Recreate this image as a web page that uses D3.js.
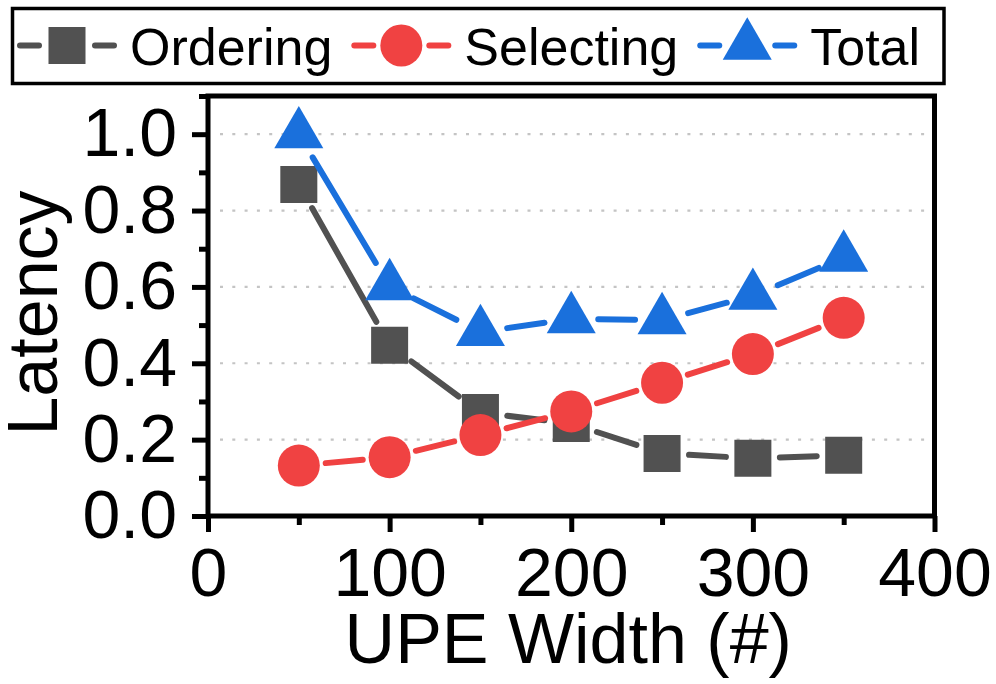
<!DOCTYPE html>
<html lang="en">
<head>
    <meta charset="UTF-8">
    <title>UPE Width Latency</title>
    <script src="https://d3js.org/d3.v7.min.js"></script>
    <style>
        body { margin: 0; background: #fff; }
        text { font-family: "Liberation Sans", Arial, Helvetica, sans-serif; fill: #000; }
    </style>
</head>
<body>
    <svg id="chart" width="996" height="684"></svg>
    <script>
        // data
        const widths = [50, 100, 150, 200, 250, 300, 350];
        const ordering = [0.868, 0.447, 0.271, 0.242, 0.164, 0.151, 0.159];
        const selecting = [0.132, 0.154, 0.212, 0.274, 0.349, 0.424, 0.519];
        const total = [1.0, 0.602, 0.482, 0.516, 0.513, 0.577, 0.677];
        const xTicks = [0, 100, 200, 300, 400];
        const xMinor = [50, 150, 250, 350];
        const yTicks = [0, 0.2, 0.4, 0.6, 0.8, 1.0];
        const yMinor = [0.1, 0.3, 0.5, 0.7, 0.9, 1.1];
        const yGrid = [0.2, 0.4, 0.6, 0.8, 1.0];
        const seriesNames = ['Ordering', 'Selecting', 'Total'];

        const width = 996, height = 684;
        const margin = { top: 96, right: 61.5, bottom: 168, left: 208 };
        const frameW = 5;
        const lineW = 6;

        const svg = d3.select('#chart');

        const x = d3.scaleLinear().domain([0, 400]).range([margin.left, width - margin.right]);
        const y = d3.scaleLinear().domain([0, 1.1]).range([height - margin.bottom, margin.top]);

        const series = [
            { name: seriesNames[0], values: ordering, color: '#515151', symbol: d3.symbolSquare, size: 37 * 37 },
            { name: seriesNames[1], values: selecting, color: '#f04242', symbol: d3.symbolCircle, size: Math.PI * 21 * 21 },
            { name: seriesNames[2], values: total, color: '#1a70dc', symbol: d3.symbolTriangle, size: 1040 }
        ];

        // dotted grid lines
        svg.append('g')
            .selectAll('line')
            .data(yGrid)
            .join('line')
            .attr('x1', x(0) + 12)
            .attr('x2', x(400) - 2)
            .attr('y1', d => y(d))
            .attr('y2', d => y(d))
            .attr('stroke', '#c4c4c4')
            .attr('stroke-width', 2.2)
            .attr('stroke-dasharray', '3,9.3');

        // axes: major and minor ticks
        const xAxis = svg.append('g')
            .attr('transform', `translate(0,${y(0)})`)
            .call(d3.axisBottom(x).tickValues(xTicks).tickSize(16).tickPadding(16).tickFormat(d3.format('d')));
        svg.append('g')
            .attr('transform', `translate(0,${y(0)})`)
            .call(d3.axisBottom(x).tickValues(xMinor).tickSize(9).tickFormat(''));

        svg.append('g')
            .attr('transform', `translate(${x(0)},0)`)
            .call(d3.axisLeft(y).tickValues(yTicks).tickSize(16).tickPadding(15).tickFormat(d3.format('.1f')));
        svg.append('g')
            .attr('transform', `translate(${x(0)},0)`)
            .call(d3.axisLeft(y).tickValues(yMinor).tickSize(9).tickFormat(''));

        svg.selectAll('.domain').remove();
        svg.selectAll('.tick line').attr('stroke', '#000').attr('stroke-width', frameW);
        svg.selectAll('.tick text')
            .attr('font-size', 68)
            .attr('font-family', '"Liberation Sans", Arial, Helvetica, sans-serif')
            .attr('fill', '#000');
        xAxis.selectAll('.tick text').attr('dy', '0.71em');

        // frame
        svg.append('rect')
            .attr('x', x(0))
            .attr('y', y(1.1))
            .attr('width', x(400) - x(0))
            .attr('height', y(0) - y(1.1))
            .attr('fill', 'none')
            .attr('stroke', '#000')
            .attr('stroke-width', frameW);

        // line segments stop short of the markers
        const gap = 27;
        function segments(vals) {
            const out = [];
            for (let i = 0; i < vals.length - 1; i++) {
                const x1 = x(widths[i]), y1 = y(vals[i]);
                const x2 = x(widths[i + 1]), y2 = y(vals[i + 1]);
                const len = Math.hypot(x2 - x1, y2 - y1);
                const ux = (x2 - x1) / len, uy = (y2 - y1) / len;
                out.push({ x1: x1 + ux * gap, y1: y1 + uy * gap, x2: x2 - ux * gap, y2: y2 - uy * gap });
            }
            return out;
        }

        series.forEach(s => {
            const g = svg.append('g');
            g.selectAll('line')
                .data(segments(s.values))
                .join('line')
                .attr('x1', d => d.x1).attr('y1', d => d.y1)
                .attr('x2', d => d.x2).attr('y2', d => d.y2)
                .attr('stroke', s.color)
                .attr('stroke-width', lineW)
                .attr('stroke-linecap', 'round');
            g.selectAll('path')
                .data(s.values)
                .join('path')
                .attr('transform', (d, i) => `translate(${x(widths[i])},${y(d)})`)
                .attr('d', d3.symbol().type(s.symbol).size(s.size))
                .attr('fill', s.color);
        });

        // axis titles
        svg.append('text')
            .attr('x', (x(0) + x(400)) / 2 - 3)
            .attr('y', 663)
            .attr('text-anchor', 'middle')
            .attr('font-size', 70)
            .text('UPE Width (#)');

        svg.append('text')
            .attr('transform', 'rotate(-90)')
            .attr('x', -313)
            .attr('y', 57)
            .attr('text-anchor', 'middle')
            .attr('font-size', 70)
            .text('Latency');

        // legend
        const legendY = 45.5;
        svg.append('rect')
            .attr('x', 12.5)
            .attr('y', 8.5)
            .attr('width', 931.5)
            .attr('height', 75)
            .attr('fill', '#fff')
            .attr('stroke', '#000')
            .attr('stroke-width', 3.5);

        let cx = 67;
        series.forEach(s => {
            const g = svg.append('g').attr('transform', `translate(${cx},${legendY})`);
            [[-50, -25], [25, 50]].forEach(([a, b]) => {
                g.append('line')
                    .attr('x1', a + 3).attr('x2', b - 3)
                    .attr('stroke', s.color)
                    .attr('stroke-width', lineW)
                    .attr('stroke-linecap', 'round');
            });
            g.append('path')
                .attr('d', d3.symbol().type(s.symbol).size(s.size))
                .attr('fill', s.color);
            const t = g.append('text')
                .attr('x', 63)
                .attr('y', 19)
                .attr('font-size', 52)
                .text(s.name);
            const tw = t.node().getComputedTextLength();
            cx += 63 + tw + 19 + 50;
        });
    </script>
</body>
</html>
